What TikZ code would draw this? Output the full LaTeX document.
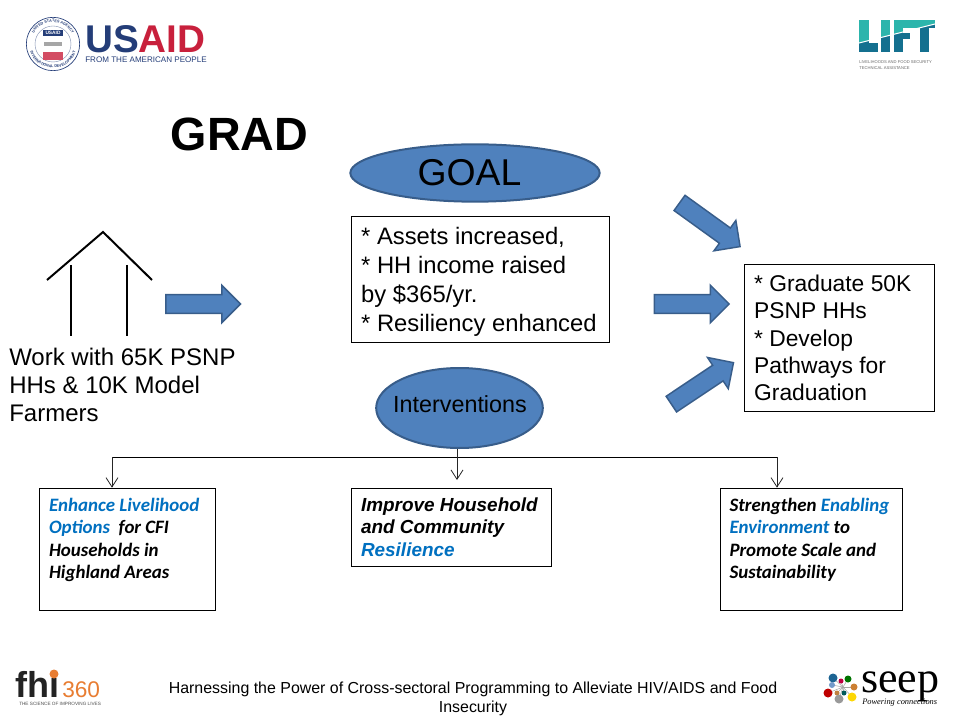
\documentclass[tikz,border=0pt]{standalone}
\usepackage{fontspec}
\usepackage{xcolor}
\usepackage{tikz}
\usetikzlibrary{shapes.geometric, shapes.arrows, arrows.meta, decorations.text}
\setmainfont{Liberation Sans}
\newfontfamily\carlitofont{Carlito}
\newfontfamily\gyrefont{Liberation Serif}
\definecolor{cBlue}{RGB}{79,129,189}
\definecolor{cEdge}{RGB}{56,93,138}
\definecolor{cLink}{RGB}{0,112,192}
\definecolor{cNavy}{RGB}{36,61,120}
\definecolor{cCrimson}{RGB}{200,32,60}
\definecolor{cTeal}{RGB}{44,181,172}
\definecolor{cDeep}{RGB}{20,112,143}
\definecolor{cOrange}{RGB}{232,125,50}
\definecolor{cInk}{RGB}{35,35,35}
\tikzset{
    oval/.style     ={ellipse, draw=cEdge, line width=1.5pt, fill=cBlue, inner sep=0pt},
    textbox/.style  ={rectangle, draw=black, line width=0.75pt, fill=white, align=left, inner sep=0pt},
    bigtext/.style  ={font=\fontsize{17.85}{21.8}\selectfont},
    gradtext/.style ={font=\fontsize{17.1}{20.5}\selectfont},
    calibox/.style  ={textbox, font=\carlitofont\bfseries\itshape\fontsize{14.2}{16.9}\selectfont},
    blockarrow/.style={single arrow, draw=cEdge, line width=1.1pt, fill=cBlue, inner sep=6.5pt,
        minimum width=28pt, minimum height=56pt, single arrow head extend=7pt},
    link/.style     ={-{Straight Barb[length=7pt,width=9pt]}, line width=0.6pt, draw=black!85},
}

\begin{document}
\begin{tikzpicture}[x=0.75pt, y=-0.75pt]
    \useasboundingbox (0,0) rectangle (960,720);

    \node[font=\bfseries\fontsize{35}{40}\selectfont] (title) at (239.5,134) {GRAD};
    \node[oval, minimum width=187pt, minimum height=43pt] (goal) at (475,173) {};
    \node[font=\fontsize{28}{32}\selectfont] (goaltext) at (469.5,173) {GOAL};
    \node[textbox, bigtext, minimum width=194pt, minimum height=95pt] (assets) at (480.5,279.5)
        {\parbox{179pt}{\vspace{3pt}* Assets increased,\\{}* HH income raised\\by \$365/yr.\\{}* Resiliency enhanced}};
    \node[textbox, gradtext, minimum width=143pt, minimum height=110pt] (gradbox) at (839.5,338)
        {\parbox{128pt}{* Graduate 50K\\PSNP HHs\\{}* Develop\\Pathways for\\Graduation}};
    \node[oval, minimum width=125pt, minimum height=60pt] (interv) at (459.5,408) {};
    \node[font=\fontsize{17.5}{20}\selectfont] (intervtext) at (460,404) {Interventions};
    \node[font=\fontsize{18}{21}\selectfont, align=left, anchor=north west, inner sep=0pt] (work) at (9,347.5)
        {Work with 65K PSNP\\HHs \& 10K Model\\Farmers};

    \node[blockarrow] (arrowhh) at (198.5,304) {};
    \node[blockarrow] (arrowgoal) at (687,304) {};
    \node[blockarrow, rotate=-35.8] (arrowtop) at (706,222) {};
    \node[blockarrow, rotate=33.7] (arrowlow) at (698.5,386) {};

    \coordinate (house1) at (47,280);
    \coordinate (house2) at (103,232);
    \coordinate (house3) at (152,280);
    \draw[line width=1.5pt] (house1) -- (house2) -- (house3);
    \draw[line width=1.5pt] (71,265) -- (71,336);
    \draw[line width=1.5pt] (127,265) -- (127,336);

    \node[calibox, minimum width=132pt, minimum height=92pt] (livelihood) at (127,549.5)
        {\parbox{117pt}{\textcolor{cLink}{Enhance Livelihood\\Options} \ for CFI\\Households in\\Highland Areas\\\mbox{}}};
    \node[textbox, font=\bfseries\itshape\fontsize{14.2}{16.9}\selectfont, minimum width=150pt, minimum height=58.5pt] (resil) at (451,527)
        {\parbox{135pt}{Improve Household\\and Community\\\textcolor{cLink}{Resilience}}};
    \node[calibox, minimum width=137pt, minimum height=92pt] (enabling) at (811.5,549.5)
        {\parbox{123pt}{Strengthen \textcolor{cLink}{Enabling\\Environment} to\\Promote Scale and\\Sustainability\\\mbox{}}};

    \coordinate (busL) at (112,457);
    \coordinate (busR) at (777,457);
    \coordinate (tipM) at (457,480);
    \draw[line width=0.75pt] (busL) -- (busR);
    \draw[link] (busL) -- (busL |- livelihood.north);
    \draw[link] (interv.south -| tipM) -- (tipM);
    \draw[link] (busR) -- (busR |- enabling.north);

    \node[font=\fontsize{11.95}{14.2}\selectfont, align=center] (footer) at (473,698.5)
        {Harnessing the Power of Cross-sectoral Programming to Alleviate HIV/AIDS and Food\\Insecurity};

    \node[circle, draw=cNavy, line width=0.5pt, fill=white, minimum size=40pt, inner sep=0pt] (seal) at (53,44) {};
    \node[circle, draw=cNavy!60, line width=0.3pt, minimum size=27pt, inner sep=0pt] (sealin) at (seal) {};
    \node[fill=cNavy, text=white, font=\bfseries\fontsize{3.6}{4}\selectfont, inner sep=0.7pt, minimum width=15pt] (sealtag) at (53,33) {USAID};
    \node[fill=cCrimson!80, minimum width=15pt, minimum height=6pt, inner sep=0pt] (sealflag) at (53,56) {};
    \node[fill=black!35, minimum width=14pt, minimum height=2.5pt, inner sep=0pt] (sealhand) at (53,44) {};
    \path[decorate, decoration={text along path, text align=center, text={|\bfseries\fontsize{2.8}{3}\selectfont\color{cNavy}|UNITED STATES AGENCY}}]
        (31,44) arc[start angle=180, end angle=360, radius=22];
    \path[decorate, decoration={text along path, text align=center, text={|\bfseries\fontsize{2.8}{3}\selectfont\color{cNavy}|INTERNATIONAL DEVELOPMENT}}]
        (29,44) arc[start angle=180, end angle=0, radius=24];
    \node[anchor=west, inner sep=0pt, font=\bfseries\fontsize{29}{32}\selectfont] (usaid) at (85,39.5)
        {\textcolor{cNavy}{US}\textcolor{cCrimson}{AID}};
    \node[anchor=west, inner sep=0pt, text=cNavy, font=\fontsize{6.05}{8}\selectfont] (usaidsub) at (85,60) {FROM THE AMERICAN PEOPLE};

    \foreach \xa/\ya/\xb/\yb in {859/20/869/52, 859/43/878/52, 881/20/890/52, 894/20/903/52, 894/20/911/28, 894/33/910/39, 911/20/935/28, 920/20/929/52} {
        \fill[cTeal] (\xa,\ya) rectangle (\xb,\yb);
    }
    \begin{scope}
        \clip (859,43) -- (935,24) -- (935,52) -- (859,52) -- cycle;
        \foreach \xa/\ya/\xb/\yb in {859/20/869/52, 859/43/878/52, 881/20/890/52, 894/20/903/52, 894/20/911/28, 894/33/910/39, 911/20/935/28, 920/20/929/52} {
            \fill[cDeep] (\xa,\ya) rectangle (\xb,\yb);
        }
    \end{scope}
    \draw[white, line width=0.8pt] (859,43) -- (935,24);
    \node[anchor=north west, inner sep=0pt, text=black!60, align=left, font=\fontsize{3.1}{4.4}\selectfont] (liftsub) at (859,60.5)
        {LIVELIHOODS AND FOOD SECURITY\\TECHNICAL ASSISTANCE};

    \node[anchor=base west, inner sep=0pt, text=cInk, font=\bfseries\fontsize{27}{30}\selectfont] (fhi) at (15,697) {fhi};
    \fill[cOrange] (54,674) circle[radius=4.5];
    \node[anchor=base west, inner sep=0pt, text=cOrange, font=\fontsize{17}{20}\selectfont] (num) at (62,697) {360};
    \node[anchor=west, inner sep=0pt, text=black!70, font=\fontsize{3.5}{5}\selectfont] (fhisub) at (19,704) {THE SCIENCE OF IMPROVING LIVES};

    \coordinate (hub) at (843,687);
    \foreach \px/\py/\pr/\pc in {833/678/4.5/cNavy!80!cyan, 848/679/3.5/green!45!black, 841/681/2.5/purple, 832/685/3/cBlue!80,
        854/687/3.5/brown!80!orange, 828/693/4.5/red!75!black, 837/693/2.5/brown, 844/693/2.5/teal!70!black,
        839/699/4.5/black!40, 852/697/4.5/yellow!75!orange} {
        \draw[black!35, line width=0.4pt] (hub) -- (\px,\py);
        \fill[\pc] (\px,\py) circle[radius=\pr];
    }
    \node[anchor=base west, inner sep=0pt, font=\gyrefont\fontsize{33}{36}\selectfont] (seep) at (861,692) {seep};
    \node[anchor=west, inner sep=0pt, font=\gyrefont\itshape\fontsize{6.3}{8}\selectfont] (seepsub) at (862,703) {Powering connections};
\end{tikzpicture}
\end{document}
